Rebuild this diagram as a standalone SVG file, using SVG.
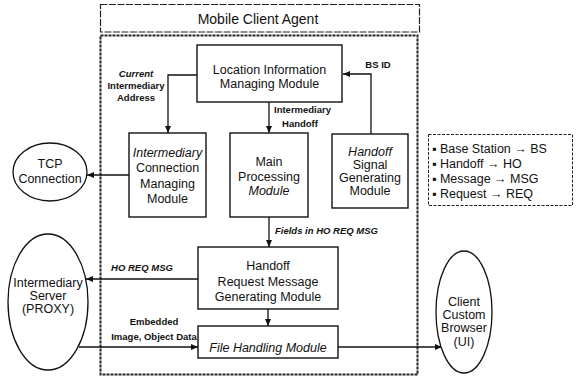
<svg xmlns="http://www.w3.org/2000/svg" width="582" height="379" viewBox="0 0 582 379">
  <style>
    text { font-family: "Liberation Sans", Arial, sans-serif; fill: #111; }
    .box { fill: #fff; stroke: #111; stroke-width: 1.4; }
    .ell { fill: #fff; stroke: #111; stroke-width: 1.3; }
    .t { font-size: 12.5px; text-anchor: middle; }
    .lg { font-size: 12.5px; }
    .lb { font-size: 9.5px; font-weight: bold; }
    .it { font-style: italic; }
    .conn path { fill: none; stroke: #111; stroke-width: 1.3; }
  </style>
  <defs>
    <marker id="ah" markerWidth="8" markerHeight="8" refX="7" refY="4" orient="auto" markerUnits="userSpaceOnUse">
      <path d="M0,1 L7,4 L0,7 Z" fill="#111"/>
    </marker>
  </defs>

  <rect width="582" height="379" fill="#fff"/>

  <!-- agent title bar -->
  <g id="agent-title">
    <rect x="100.5" y="4.5" width="319" height="27.5" fill="none" stroke="#222" stroke-width="1.2" stroke-dasharray="7 1.5"/>
    <text x="258" y="23.5" font-size="14px" text-anchor="middle">Mobile Client Agent</text>
  </g>

  <!-- agent boundary -->
  <g id="agent-boundary">
    <rect x="100.5" y="35.5" width="317" height="339" fill="none" stroke="#222" stroke-width="2" stroke-dasharray="3 1"/>
  </g>

  <!-- connectors -->
  <g id="connectors" class="conn">
    <path d="M197,75 H168 V133" marker-end="url(#ah)"/>
    <path d="M269,102 V133" marker-end="url(#ah)"/>
    <path d="M371,134 V74 H343" marker-end="url(#ah)"/>
    <path d="M129,175 H87" marker-end="url(#ah)"/>
    <path d="M269,217 V247" marker-end="url(#ah)"/>
    <path d="M198,279 H86" marker-end="url(#ah)"/>
    <path d="M268,309 V326" marker-end="url(#ah)"/>
    <path d="M79,347 H198" marker-end="url(#ah)"/>
    <path d="M338,347 H442" marker-end="url(#ah)"/>
  </g>

  <!-- connector labels -->
  <g id="labels">
    <text class="lb it" x="136" y="77" text-anchor="middle">Current</text>
    <text class="lb" x="136" y="89" text-anchor="middle">Intermediary</text>
    <text class="lb" x="136" y="101" text-anchor="middle">Address</text>
    <text class="lb" x="274" y="113">Intermediary</text>
    <text class="lb" x="300" y="127" text-anchor="middle">Handoff</text>
    <text class="lb" x="378" y="68" text-anchor="middle">BS ID</text>
    <text class="lb it" x="275" y="234">Fields in HO REQ MSG</text>
    <text class="lb it" x="142" y="271" text-anchor="middle">HO REQ MSG</text>
    <text class="lb" x="154" y="325" text-anchor="middle">Embedded</text>
    <text class="lb" x="154" y="340" text-anchor="middle">Image, Object Data</text>
  </g>

  <g id="location-module">
    <rect class="box" x="197" y="45" width="145" height="57"/>
    <text class="t" x="269.5" y="74" font-size="13px">Location Information</text>
    <text class="t" x="269.5" y="88" font-size="13px">Managing Module</text>
  </g>

  <g id="connection-module">
    <rect class="box" x="129" y="133" width="77" height="84"/>
    <text class="t it" x="167.5" y="157">Intermediary</text>
    <text class="t" x="167.5" y="172">Connection</text>
    <text class="t" x="167.5" y="188">Managing</text>
    <text class="t" x="167.5" y="203">Module</text>
  </g>

  <g id="main-module">
    <rect class="box" x="230" y="133" width="78" height="84"/>
    <text class="t" x="269" y="166">Main</text>
    <text class="t" x="269" y="181">Processing</text>
    <text class="t it" x="269" y="195">Module</text>
  </g>

  <g id="signal-module">
    <rect class="box" x="332" y="134" width="76" height="74"/>
    <text class="t it" x="370" y="156">Handoff</text>
    <text class="t" x="370" y="169">Signal</text>
    <text class="t" x="370" y="182">Generating</text>
    <text class="t" x="370" y="195">Module</text>
  </g>

  <g id="request-module">
    <rect class="box" x="198" y="247" width="140" height="62"/>
    <text class="t" x="268" y="269.5">Handoff</text>
    <text class="t" x="268" y="285.5">Request Message</text>
    <text class="t" x="268" y="300.5">Generating Module</text>
  </g>

  <g id="file-module">
    <rect class="box" x="198" y="326" width="140" height="32"/>
    <text class="t it" x="268" y="351.5">File Handling Module</text>
  </g>

  <g id="tcp">
    <ellipse class="ell" cx="50" cy="172" rx="37" ry="29"/>
    <text class="t" x="50" y="167.5">TCP</text>
    <text class="t" x="50" y="182.5">Connection</text>
  </g>

  <g id="proxy">
    <ellipse class="ell" cx="48" cy="302" rx="40" ry="68"/>
    <text class="t" x="48" y="286.5">Intermediary</text>
    <text class="t" x="48" y="299.5">Server</text>
    <text class="t" x="48" y="312.5">(PROXY)</text>
  </g>

  <g id="browser">
    <ellipse class="ell" cx="464" cy="312" rx="28" ry="61"/>
    <text class="t" x="464" y="306" font-size="11.5px">Client</text>
    <text class="t" x="464" y="319" font-size="11.5px">Custom</text>
    <text class="t" x="464" y="332" font-size="11.5px">Browser</text>
    <text class="t" x="464" y="346" font-size="11.5px">(UI)</text>
  </g>

  <g id="legend">
    <rect x="428.5" y="134.5" width="144" height="71" fill="none" stroke="#222" stroke-width="1" stroke-dasharray="3 1.5"/>
    <text class="lg" x="432" y="152.5">▪ Base Station → BS</text>
    <text class="lg" x="432" y="167.5">▪ Handoff → HO</text>
    <text class="lg" x="432" y="182.5">▪ Message → MSG</text>
    <text class="lg" x="432" y="197.5">▪ Request → REQ</text>
  </g>
</svg>
